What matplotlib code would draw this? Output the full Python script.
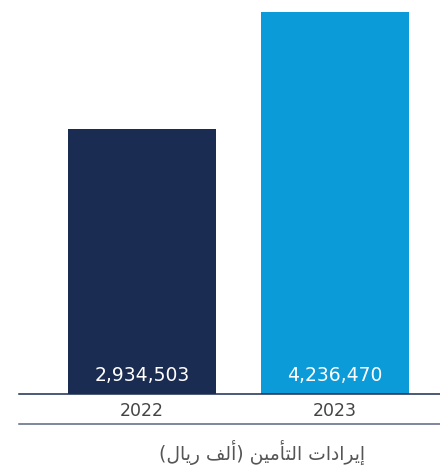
import matplotlib.pyplot as plt
from matplotlib.lines import Line2D

years = ["2022", "2023"]
revenue = [2934503, 4236470]
bar_colors = ["#1b2c52", "#0a9bd8"]
title = "إيرادات التأمين (ألف ريال)"

# minimal arabic shaping (matplotlib has no complex text layout)
FORMS = {
    "\u0627": (0xFE8D, 0xFE8E, None, None),
    "\u0623": (0xFE83, 0xFE84, None, None),
    "\u0625": (0xFE87, 0xFE88, None, None),
    "\u062F": (0xFEA9, 0xFEAA, None, None),
    "\u0631": (0xFEAD, 0xFEAE, None, None),
    "\u062A": (0xFE95, 0xFE96, 0xFE97, 0xFE98),
    "\u0644": (0xFEDD, 0xFEDE, 0xFEDF, 0xFEE0),
    "\u0645": (0xFEE1, 0xFEE2, 0xFEE3, 0xFEE4),
    "\u0646": (0xFEE5, 0xFEE6, 0xFEE7, 0xFEE8),
    "\u064A": (0xFEF1, 0xFEF2, 0xFEF3, 0xFEF4),
    "\u0641": (0xFED1, 0xFED2, 0xFED3, 0xFED4),
}


def shape_rtl(s):
    out = []
    for i, c in enumerate(s):
        if c not in FORMS:
            out.append(c)
            continue
        iso, fin, ini, med = FORMS[c]
        prev = s[i - 1] if i > 0 else ""
        nxt = s[i + 1] if i + 1 < len(s) else ""
        pj = prev in FORMS and FORMS[prev][2] is not None
        nj = nxt in FORMS and ini is not None
        if pj and nj:
            out.append(chr(med))
        elif pj:
            out.append(chr(fin))
        elif nj:
            out.append(chr(ini))
        else:
            out.append(chr(iso))
    vis = "".join(reversed(out))
    return vis.translate(str.maketrans("()", ")("))


W, H = 440, 466
fig = plt.figure(figsize=(W / 100, H / 100), dpi=100)
base_y = 394
top_y = 12
ax = fig.add_axes([19 / W, (H - base_y) / H, (W - 19) / W, base_y / H])

x = [0, 1]
ax.bar(x, revenue, width=148 / 193, color=bar_colors)
ax.set_xlim(-123 / 193, 1 + 105 / 193)
ax.set_ylim(0, revenue[1] * base_y / (base_y - top_y))

for xi, v in zip(x, revenue):
    ax.annotate(f"{v:,}", (xi, 0), xytext=(0, 13), textcoords="offset points",
                ha="center", va="center", color="white", fontsize=13.5,
                family="DejaVu Sans")

for s in ["top", "right", "left"]:
    ax.spines[s].set_visible(False)
ax.spines["bottom"].set_color("#1b2c52")
ax.spines["bottom"].set_linewidth(1.1)
ax.set_yticks([])
ax.set_xticks(x)
ax.set_xticklabels(years, fontsize=12.5, color="#444444", family="DejaVu Sans")
ax.tick_params(axis="x", length=0, pad=6)

ax.add_artist(Line2D([0, 1], [-30 / base_y, -30 / base_y], transform=ax.transAxes,
                     color="#5b6683", lw=1.1, clip_on=False))

fig.text(262 / W, 1 - 452 / H, shape_rtl(title), ha="center", va="center",
         fontsize=13.5, color="#555555", family="DejaVu Sans")

fig.savefig("out.png", dpi=100)
